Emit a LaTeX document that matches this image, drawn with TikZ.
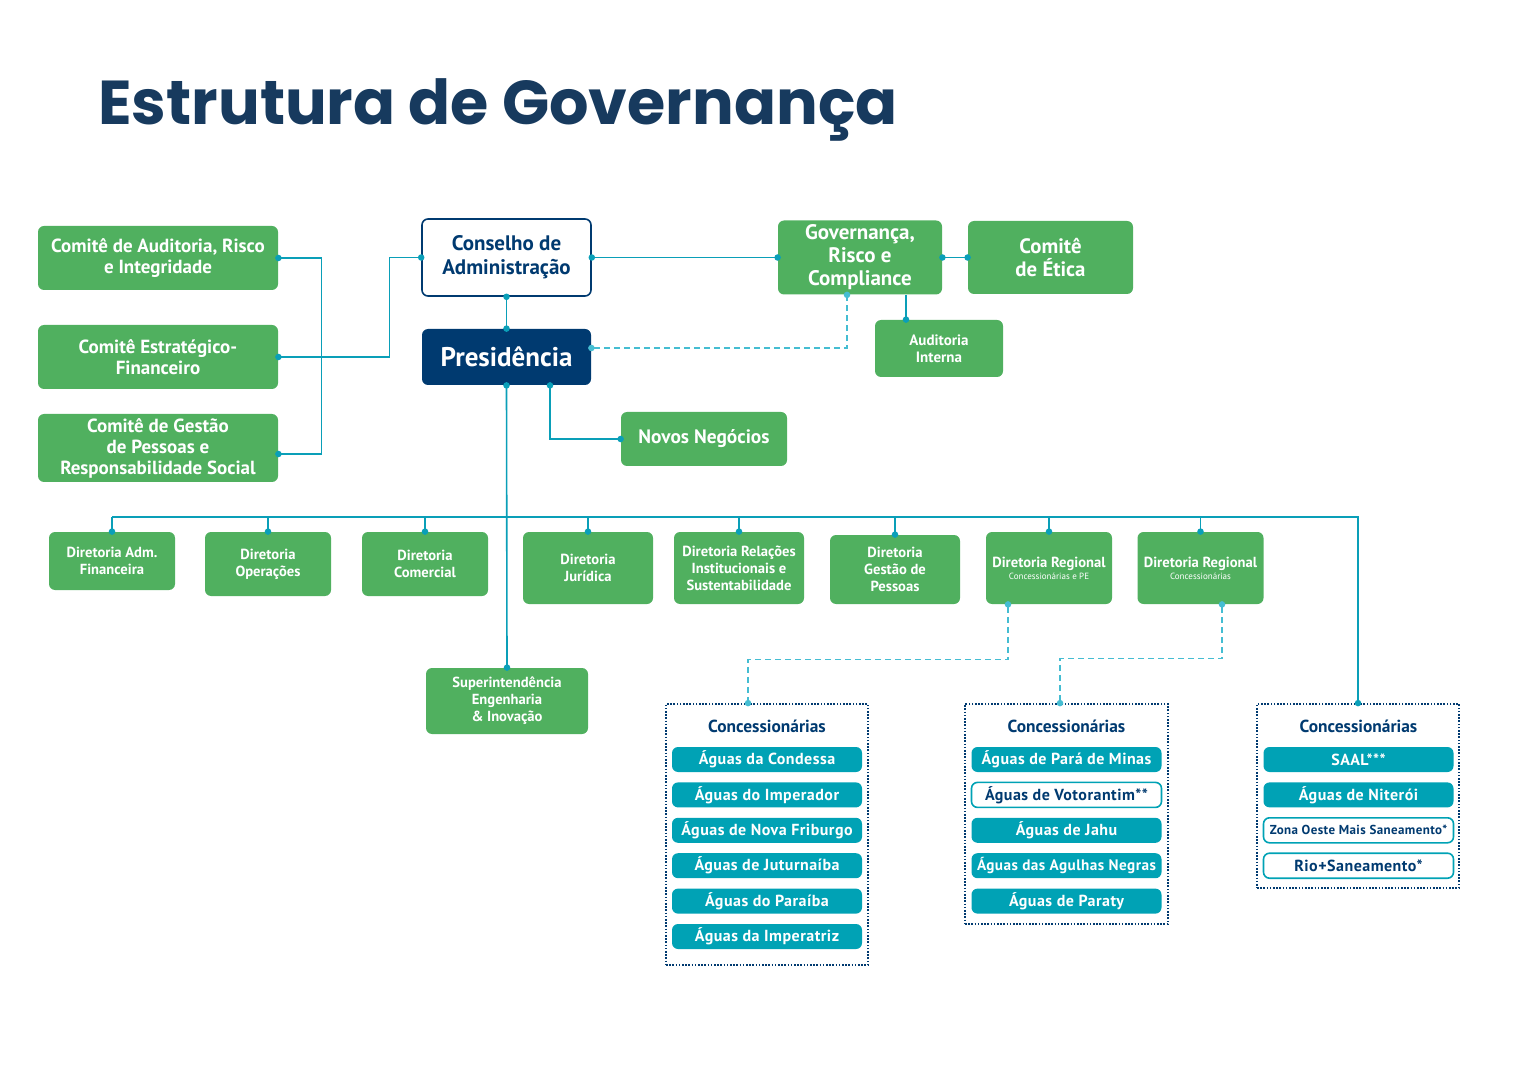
\documentclass[tikz,border=0pt]{standalone}
\usepackage{fontspec}
\setmainfont{PT Sans}
\newfontfamily\titlefont{Poppins}
\newfontfamily\espacada{PT Sans}[LetterSpace=3]
\usetikzlibrary{
  positioning,
  arrows.meta
}
\definecolor{verde}{HTML}{50B05F}
\definecolor{marinho}{HTML}{003A70}
\definecolor{titulo}{HTML}{173A5E}
\definecolor{linha}{HTML}{0A9FB8}
\definecolor{tracejado}{HTML}{45BDD2}
\definecolor{agua}{HTML}{00A2B5}
\tikzset{
  x=0.5pt, y=-0.5pt,
  ponto/.tip={Circle[length=3.2pt]},
  caixa/.style={rounded corners=3pt, align=center, inner sep=0pt, text=white,
    font=\bfseries\fontsize{9.5}{10.5}\selectfont},
  comite/.style={caixa, fill=verde, minimum width=120pt, minimum height=32pt},
  verdebox/.style={caixa, fill=verde},
  conselho/.style={caixa, fill=white, draw=marinho, line width=0.8pt, text=marinho,
    minimum width=84.5pt, minimum height=38.5pt, font=\bfseries\fontsize{10.5}{12}\selectfont},
  presid/.style={caixa, fill=marinho, minimum width=84.5pt, minimum height=28pt,
    font=\bfseries\fontsize{13.5}{14}\selectfont},
  diretoria/.style={caixa, fill=verde, minimum width=63pt, minimum height=36pt,
    font=\bfseries\fontsize{7.3}{8.5}\selectfont},
  grupo/.style={draw=marinho, line width=0.9pt, dash pattern=on 0.8pt off 0.8pt},
  cabeca/.style={font=\bfseries\fontsize{8.7}{9}\selectfont, text=marinho, inner sep=0pt},
  aguaa/.style={caixa, fill=agua, minimum width=95pt, minimum height=12.5pt,
    font=\espacada\bfseries\fontsize{8}{8.5}\selectfont},
  aguab/.style={aguaa, fill=white, draw=agua, line width=0.8pt, text=marinho},
  liga/.style={draw=linha, line width=0.8pt, shorten <=-1.6pt, shorten >=-1.6pt},
  tracejada/.style={liga, draw=tracejado, dash pattern=on 3pt off 2pt}
}
\begin{document}
\begin{tikzpicture}
  \useasboundingbox (0,0) rectangle (1526,1080);
  \node[anchor=base west, inner sep=0pt, text=titulo,
    font=\titlefont\bfseries\fontsize{31}{31}\selectfont] (titulo) at (98,125) {Estrutura de Governança};

  \node[comite] (aud) at (158,258) {Comitê de Auditoria, Risco\\e Integridade};
  \node[comite] (estr) at (158,357) {Comitê Estratégico-\\Financeiro};
  \node[comite, minimum height=34pt] (pess) at (158,448) {Comitê de Gestão\\de Pessoas e\\Responsabilidade Social};
  \node[conselho] (cons) at (506.5,257.5) {Conselho de\\Administração};
  \node[presid] (pres) at (506.5,357) {Presidência};
  \node[verdebox, minimum width=82pt, minimum height=37pt,
    font=\bfseries\fontsize{10.5}{11.5}\selectfont] (grc) at (860,257.5) {Governança,\\Risco e\\Compliance};
  \node[verdebox, minimum width=82.5pt, minimum height=36.5pt,
    font=\bfseries\fontsize{10.4}{11.5}\selectfont] (etica) at (1050.5,257.5) {Comitê\\de Ética};
  \node[verdebox, minimum width=64pt, minimum height=28.5pt,
    font=\bfseries\fontsize{7.5}{8.5}\selectfont] (audint) at (939,348.5) {Auditoria\\Interna};
  \node[verdebox, minimum width=83pt, minimum height=27pt,
    font=\bfseries\fontsize{9.7}{10}\selectfont] (novos) at (704,439) {Novos Negócios};

  \node[diretoria, minimum height=29pt] (dafin) at (112,561) {Diretoria Adm.\\Financeira};
  \node[diretoria, minimum height=32pt] (dop) at (268,564) {Diretoria\\Operações};
  \node[diretoria, minimum height=32pt] (dcom) at (425,564) {Diretoria\\Comercial};
  \node[diretoria, minimum width=65pt] (djur) at (588,568) {Diretoria\\Jurídica};
  \node[diretoria, minimum width=65pt] (drel) at (739,568) {Diretoria Relações\\Institucionais e\\Sustentabilidade};
  \node[diretoria, minimum width=65pt, minimum height=34.5pt] (dgp) at (895,569.5) {Diretoria\\Gestão de\\Pessoas};
  \node[diretoria] (dreg1) at (1049,568) {Diretoria Regional\\[-2.5pt]{\mdseries\fontsize{4.5}{5}\selectfont Concessionárias e PE}};
  \node[diretoria] (dreg2) at (1200.5,568) {Diretoria Regional\\[-2.5pt]{\mdseries\fontsize{4.5}{5}\selectfont Concessionárias}};
  \node[diretoria, minimum width=81pt, minimum height=33pt] (sup) at (507,701) {Superintendência\\Engenharia\\\& Inovação};

  \node[grupo, minimum width=101pt, minimum height=130.5pt] (box1) at (767,834.5) {};
  \node[grupo, minimum width=101.5pt, minimum height=110pt] (box2) at (1066.5,814) {};
  \node[grupo, minimum width=101pt, minimum height=92pt] (box3) at (1358,796) {};
  \node[cabeca] (h1) at (767,726) {Concessionárias};
  \node[cabeca] (h2) at (1066.5,726) {Concessionárias};
  \node[cabeca] (h3) at (1358.5,726) {Concessionárias};
  \foreach \t [count=\i] in {Águas da Condessa, Águas do Imperador, Águas de Nova Friburgo,
      Águas de Juturnaíba, Águas do Paraíba, Águas da Imperatriz}
    \node[aguaa] (c1-\i) at (767,724.1+35.4*\i) {\t};
  \foreach \t/\s [count=\i] in {Águas de Pará de Minas/aguaa, Águas de Votorantim**/aguab,
      Águas de Jahu/aguaa, {\fontsize{7.6}{8}\selectfont Águas das Agulhas Negras}/aguaa, Águas de Paraty/aguaa}
    \node[\s] (c2-\i) at (1066.5,724.1+35.4*\i) {\t};
  \foreach \t/\s [count=\i] in {SAAL***/aguaa, Águas de Niterói/aguaa,
      {\fontsize{6.5}{7}\selectfont Zona Oeste Mais Saneamento*}/aguab, Rio+Saneamento*/aguab}
    \node[\s] (c3-\i) at (1358.5,724.1+35.4*\i) {\t};

  \draw[liga, ponto-ponto] (aud.east) -- ++(43,0) |- ([yshift=-3pt]pess.east);
  \draw[liga, ponto-ponto] (estr.east) -- ++(111,0) |- (cons.west);
  \draw[liga, ponto-ponto] (cons.east) -- (grc.west);
  \draw[liga, ponto-ponto] (grc.east) -- (etica.west);
  \draw[liga, -ponto, shorten <=0pt] ([xshift=-16.5pt]audint.north |- grc.south) -- ([xshift=-16.5pt]audint.north);
  \draw[liga, ponto-ponto] (cons.south) -- (pres.north);
  \draw[tracejada, ponto-ponto] ([yshift=4.5pt]pres.east) -| ([xshift=-6.5pt]grc.south);
  \draw[liga, ponto-ponto] ([xshift=21.75pt]pres.south) |- (novos.west);
  \draw[liga, ponto-ponto] (pres.south) -- (sup.north);
  \coordinate (bus) at (506,517);
  \draw[liga, -ponto, shorten <=0pt] (dafin.north |- bus) -| (box3.north);
  \foreach \d in {dafin,dop,dcom,djur,drel,dgp,dreg1,dreg2}
    \draw[liga, -ponto, shorten <=0pt] (\d.north |- bus) -- (\d.north);
  \draw[tracejada, ponto-ponto] ([xshift=-20.5pt]dreg1.south) -- ++(0,55) -| ([xshift=-9.5pt]box1.north);
  \draw[tracejada, ponto-ponto] ([xshift=10.75pt]dreg2.south) -- ++(0,54) -| ([xshift=-3.25pt]box2.north);
\end{tikzpicture}
\end{document}
